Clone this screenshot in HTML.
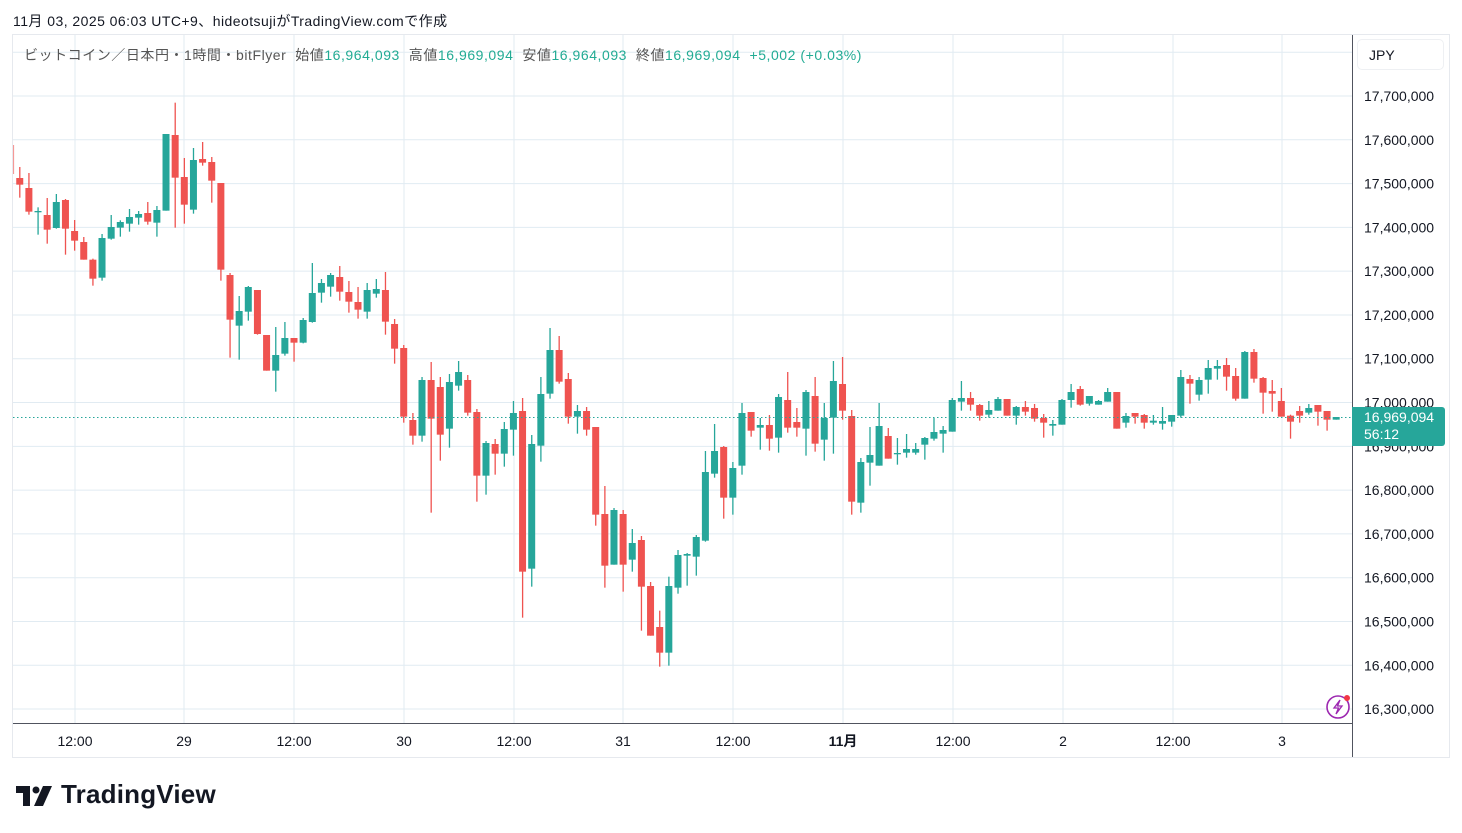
<!DOCTYPE html>
<html><head><meta charset="utf-8">
<style>
html,body{margin:0;padding:0;background:#fff;width:1462px;height:833px;overflow:hidden;font-family:"Liberation Sans","Noto Sans CJK JP",sans-serif;}
.t{position:absolute;white-space:nowrap;}
</style></head><body>
<div class="t" style="left:13px;top:11px;font-size:14px;color:#131722;letter-spacing:0.45px;">11月 03, 2025 06:03 UTC+9、hideotsujiがTradingView.comで作成</div>
<svg id="c" width="1462" height="833" style="position:absolute;left:0;top:0" xmlns="http://www.w3.org/2000/svg"></svg>
<div class="t" style="left:24px;top:45px;font-size:14px;color:#555;letter-spacing:0.55px;">ビットコイン／日本円・1時間・bitFlyer&nbsp; 始値<span style="color:#22ab94">16,964,093</span>&nbsp; 高値<span style="color:#22ab94">16,969,094</span>&nbsp; 安値<span style="color:#22ab94">16,964,093</span>&nbsp; 終値<span style="color:#22ab94">16,969,094</span>&nbsp; <span style="color:#22ab94">+5,002 (+0.03%)</span></div>
<div class="t" style="left:1357px;top:39px;width:87px;height:31px;border:1px solid #eef0f3;border-radius:5px;box-sizing:border-box;font-size:14px;color:#131722;padding:7px 0 0 11px;">JPY</div>
<div class="t" style="left:1352px;top:407px;width:93px;height:39px;background:#26a69a;border-radius:0 3px 3px 0;color:#fff;font-size:14px;line-height:17px;padding:2px 0 0 12px;box-sizing:border-box;">16,969,094<br>56:12</div>
<div class="t" style="left:16px;top:779px;font-size:26px;font-weight:bold;color:#131722;letter-spacing:0.2px;"><span style="display:inline-block;width:45px"></span>TradingView</div>
<script>
const s=document.getElementById('c');const NS='http://www.w3.org/2000/svg';
function el(n,a){const e=document.createElementNS(NS,n);for(const k in a)e.setAttribute(k,a[k]);s.appendChild(e);return e;}
const yP=p=>96+(17.7-p)*437.9;
el('rect',{x:12.5,y:34.5,width:1437,height:723,fill:'none',stroke:'#e6e9ee'});
for(let p=17.8;p>=16.25;p-=0.1){const y=yP(p);if(y>36&&y<722)el('line',{x1:13,x2:1352,y1:y,y2:y,stroke:'#e1ebf2'});}
const tx=[[75,'12:00'],[184,'29'],[294,'12:00'],[404,'30'],[514,'12:00'],[623,'31'],[733,'12:00'],[843,'11月'],[953,'12:00'],[1063,'2'],[1173,'12:00'],[1282,'3']];
tx.forEach(([x,l])=>{el('line',{x1:x,x2:x,y1:35,y2:723,stroke:'#e1ebf2'});const t=el('text',{x:x,y:746,'text-anchor':'middle','font-size':14,fill:'#131722','font-family':'"Liberation Sans","Noto Sans CJK JP",sans-serif','font-weight':l=='11月'?'bold':'normal'});t.textContent=l;});
for(let i=0;i<=14;i++){const p=17.7-i*0.1;const y=96+i*43.79;const t=el('text',{x:1364,y:y+5,'font-size':14,fill:'#131722','font-family':'"Liberation Sans",sans-serif'});t.textContent=(Math.round(p*10)/10).toFixed(1).replace('.',',')+'00,000';}
const z1=95,z2=260,z3=340,z5=420;
const D=[
[-19,'r',150,237,150,237,z1],[-18,'r',249,269,216,308,z1],[-17,'r',279,350,234,359,z1],[-16,'g',348,351,337,419,z1],[-15,'r',360,404,309,446,z1],[-14,'g',321,399,297,401,z1],[-13,'r',315,401,312,479,z1],[-12,'r',408,437,375,467,z1],[-11,'r',441,494,426,494,z1],[-10,'r',494,551,491,572,z1],[-9,'g',429,548,417,557,z1],[-8,'g',396,431,360,434,z1],[-7,'g',381,398,376,425,z1],[-6,'g',366,386,342,410,z1],[-5,'g',357,368,348,389,z1],[-4,'r',354,380,321,389,z1],[-3,'g',345,383,333,425,z1],[-2,'g',117,347,117,347,z1],[-1,'r',120,248,23,398,z1],[0,'r',246,329,189,386,z1],[1,'g',195,344,159,356,z1],[2,'r',192,203,141,212,z1],[3,'r',201,257,186,323,z1],[4,'r',264,524,264,557,z1],[5,'r',540,674,534,788,z1],[6,'g',648,692,603,794,z1],[7,'g',576,650,573,677,z1],[8,'r',585,717,585,719,z1],[9,'r',720,827,720,827,z1],[10,'g',780,827,696,890,z1],[11,'g',729,776,681,782,z1],[12,'r',729,743,729,800,z1],[13,'g',675,743,669,745,z1],[14,'g',594,681,504,683,z1],[15,'g',564,593,552,623,z1],[16,'g',540,575,534,605,z1],[17,'r',546,590,513,617,z1],
[18,'r',96,125,63,158,z2],[19,'r',126,149,81,176,z2],[20,'g',90,155,69,176,z2],[21,'g',87,101,57,113,z2],[22,'r',90,185,36,224,z2],[23,'r',192,266,177,311,z2],[24,'r',264,470,255,488,z2],[25,'r',480,527,459,554,z2],[26,'g',360,527,351,545,z2],[27,'r',360,476,306,758,z2],[28,'r',381,524,351,602,z2],[29,'g',366,506,342,563,z2],[30,'g',336,377,303,392,z2],[31,'r',360,458,345,467,z2],[32,'r',456,647,447,725,z2],[33,'g',549,647,543,704,z2],[34,'r',552,581,537,644,z2],[35,'g',507,581,486,620,z2],[36,'g',459,509,423,587,z2],[37,'r',453,935,414,1073,z2],[38,'g',552,926,525,980,z2],[39,'g',402,557,351,605,z2],[40,'g',270,401,204,416,z2],[41,'r',270,365,228,371,z2],[42,'r',357,470,339,491,z2],[43,'g',453,470,435,521,z2],[44,'r',453,509,441,527,z2],[45,'r',501,764,501,797,z2],[46,'r',762,917,678,983,z2],[47,'g',750,914,744,914,z2],[48,'r',762,914,750,995,z2],[49,'g',849,899,807,935,z2],[50,'r',840,980,828,1112,z2],[51,'r',978,1127,966,1127,z2],[52,'r',1101,1178,1052,1220,z2],[53,'g',978,1178,950,1217,z2],
[54,'g',405,503,390,521,z5],[55,'g',402,407,399,497,z5],[56,'g',351,410,345,467,z5],[57,'g',156,362,93,365,z5],
[58,'g',333,401,252,413,z3],[59,'r',321,473,318,536,z3],[60,'g',384,473,366,524,z3],[61,'g',219,377,189,404,z3],[62,'r',216,272,216,290,z3],[63,'g',255,263,234,329,z3],[64,'r',255,296,225,332,z3],[65,'g',171,293,162,338,z3],[66,'r',180,263,96,278,z3],[67,'r',246,263,204,290,z3],[68,'g',156,266,150,347,z3],[69,'r',168,311,111,335,z3],[70,'g',234,299,189,362,z3],[71,'g',123,233,63,341,z3],[72,'r',132,212,51,239,z3],[73,'r',228,485,210,524,z3],[74,'g',366,488,354,518,z3],[75,'g',345,368,261,437,z3],[76,'g',258,377,189,377,z3],[77,'r',288,356,264,356,z3],[78,'g',339,341,294,374,z3],[79,'g',327,338,282,353,z3],[80,'g',327,338,309,344,z3],[81,'g',294,314,291,359,z3],[82,'g',276,296,234,302,z3],[83,'g',270,281,258,338,z3],[84,'g',180,275,174,275,z3],[85,'g',174,185,123,212,z3],[86,'r',174,194,156,212,z3],[87,'r',195,227,192,242,z3],[88,'g',210,224,183,233,z3],[89,'g',177,212,171,212,z3],
[90,'r',177,227,177,227,z3],[91,'g',201,227,198,254,z3],[92,'r',201,215,183,227,z3],[93,'r',204,236,192,245,z3],[94,'r',234,248,222,293,z3],[95,'g',252,257,240,287,z3],[96,'g',180,254,177,254,z3],[97,'g',156,180,132,203,z3],[98,'r',147,194,138,197,z3],[99,'g',168,191,168,197,z3],[100,'g',183,194,180,194,z3],[101,'g',156,185,144,185,z3],[102,'r',156,266,156,266,z3],[103,'g',228,248,219,263,z3],[104,'r',219,230,219,251,z3],[105,'r',225,248,222,266,z3],[106,'g',242,248,225,254,z3],[107,'g',243,251,201,269,z3],[108,'g',225,245,225,260,z3],[109,'g',111,227,90,233,z3],[110,'r',117,131,105,191,z3],[111,'g',120,164,111,182,z3],[112,'g',84,119,60,161,z3],[113,'g',78,86,60,119,z3],[114,'r',75,110,54,152,z3],[115,'r',108,176,84,182,z3],[116,'g',36,176,33,176,z3],[117,'r',36,116,27,128,z3],[118,'r',114,158,111,221,z3],[119,'r',153,161,120,215,z3],[120,'r',183,230,144,230,z3],[121,'r',227,245,224,296,z3],[122,'r',213,227,198,248,z3],[123,'g',204,218,192,224,z3],[124,'r',195,215,195,257,z3],[125,'r',213,239,213,272,z3],[126,'g',231,239,231,239,z3]];
el('clipPath',{id:'cp'}).innerHTML='<rect x="13" y="35" width="1339" height="688"/>';
const g=el('g',{'clip-path':'url(#cp)'});
D.forEach(([k,c,bt,bb,wt,wb,o])=>{const x=184.3+k*9.142;const col=c=='g'?'#26a69a':'#ef5350';
const Y=v=>o+v/3;
const w=document.createElementNS(NS,'rect');w.setAttribute('x',x-0.6);w.setAttribute('y',Y(wt));w.setAttribute('width',1.3);w.setAttribute('height',Math.max(1,Y(wb)-Y(wt)));w.setAttribute('fill',col);g.appendChild(w);
const b=document.createElementNS(NS,'rect');b.setAttribute('x',x-3.5);b.setAttribute('y',Y(bt));b.setAttribute('width',7);b.setAttribute('height',Math.max(1.3,Y(bb)-Y(bt)));b.setAttribute('fill',col);if(k==-19)b.setAttribute('opacity',0.6);g.appendChild(b);});
el('line',{x1:13,x2:1352,y1:417.5,y2:417.5,stroke:'#26a69a','stroke-dasharray':'1.5 2.5'});
el('line',{x1:1352.5,x2:1352.5,y1:35,y2:757,stroke:'#50535e'});
el('line',{x1:13,x2:1352,y1:723.5,y2:723.5,stroke:'#50535e'});
el('circle',{cx:1338,cy:707,r:11,fill:'#fff',stroke:'#9c27b0','stroke-width':1.6});
el('path',{d:'M1340 700 L1334 708 L1338.5 708 L1336 714 L1342 706 L1337.5 706 Z',fill:'none',stroke:'#9c27b0','stroke-width':1.3});
el('circle',{cx:1347,cy:698,r:3,fill:'#f23645'});
el('path',{d:'M16 786 H30 V806 H23 V793 H16 Z',fill:'#131722'});
el('circle',{cx:36,cy:790,r:3.5,fill:'#131722'});
el('path',{d:'M43 786 H52 L43 806 H34 Z',fill:'#131722'});
</script>
</body></html>
